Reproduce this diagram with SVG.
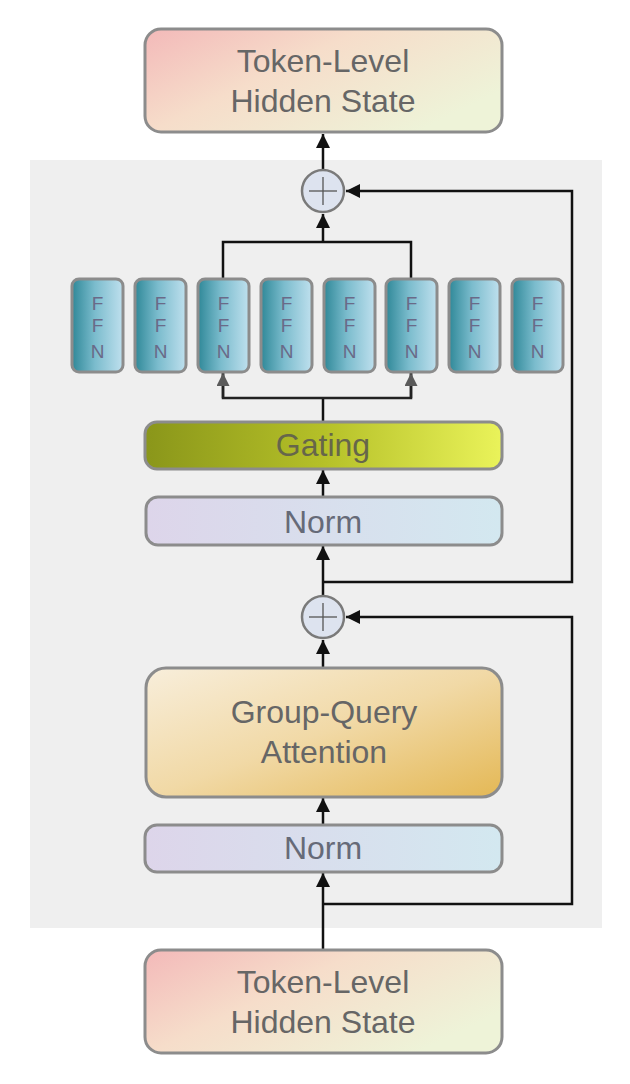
<svg xmlns="http://www.w3.org/2000/svg" width="630" height="1084" viewBox="0 0 630 1084">
<defs>
<linearGradient id="gTok" x1="0" y1="0" x2="1" y2="0.6">
<stop offset="0" stop-color="#f3b9b9"/>
<stop offset="0.45" stop-color="#f6ddca"/>
<stop offset="1" stop-color="#eef3d8"/>
</linearGradient>
<linearGradient id="gNorm" x1="0" y1="0" x2="1" y2="0">
<stop offset="0" stop-color="#ddd5ea"/>
<stop offset="1" stop-color="#d3e8f0"/>
</linearGradient>
<linearGradient id="gGate" x1="0" y1="0" x2="1" y2="0">
<stop offset="0" stop-color="#8a961a"/>
<stop offset="0.5" stop-color="#b5c028"/>
<stop offset="1" stop-color="#eaf35a"/>
</linearGradient>
<linearGradient id="gGqa" x1="0" y1="0" x2="1" y2="1">
<stop offset="0" stop-color="#f8eedb"/>
<stop offset="0.5" stop-color="#f1d9a6"/>
<stop offset="1" stop-color="#e4b855"/>
</linearGradient>
<linearGradient id="gFfn" x1="0" y1="0" x2="1" y2="0">
<stop offset="0" stop-color="#2f8898"/>
<stop offset="0.45" stop-color="#7bbccd"/>
<stop offset="1" stop-color="#bfe0ee"/>
</linearGradient>
<marker id="arr" viewBox="0 0 10 10" refX="10" refY="5" markerWidth="14" markerHeight="14" markerUnits="userSpaceOnUse" orient="auto">
<path d="M0,0 L10,5 L0,10 z" fill="#111"/>
</marker>
<marker id="arrG" viewBox="0 0 10 10" refX="10" refY="5" markerWidth="13" markerHeight="13" markerUnits="userSpaceOnUse" orient="auto">
<path d="M0,0 L10,5 L0,10 z" fill="#5a5a5a"/>
</marker>
</defs>
<style>
.box{stroke:#8c8c8c;stroke-width:3}
.lbl{font-family:"Liberation Sans",Arial,sans-serif;font-size:32px;fill:#666;text-anchor:middle}
.ffn{fill:url(#gFfn);stroke:#8c8c8c;stroke-width:3}
.ft{font-family:"Liberation Sans",Arial,sans-serif;font-size:19px;fill:#6a6a88;text-anchor:middle}
.ln{fill:none;stroke:#111;stroke-width:2.5}
.lnG{fill:none;stroke:#222;stroke-width:2.5}
.circ{fill:#dde3ef;stroke:#7a7a7a;stroke-width:2.5}
.plus{stroke:#555;stroke-width:1.3}
</style>
<rect x="30" y="160" width="572" height="768" fill="#efefef"/>

<g id="connectors">
<line class="ln" x1="323" y1="169" x2="323" y2="134" marker-end="url(#arr)"/>
<path class="ln" d="M323,582 H572 V191 H346" marker-end="url(#arr)"/>
<line class="ln" x1="323" y1="595" x2="323" y2="546" marker-end="url(#arr)"/>
<line class="ln" x1="323" y1="497" x2="323" y2="470" marker-end="url(#arr)"/>
<path class="ln" d="M323,422 V398"/>
<path class="lnG" d="M223,372 V398 H411 V372"/>
<line class="lnG" x1="223" y1="398" x2="223" y2="373" marker-end="url(#arrG)"/>
<line class="lnG" x1="411" y1="398" x2="411" y2="373" marker-end="url(#arrG)"/>
<path class="ln" d="M223,279 V242 H411 V279"/>
<line class="ln" x1="323" y1="242" x2="323" y2="214" marker-end="url(#arr)"/>
<path class="ln" d="M323,904 H572 V617 H346" marker-end="url(#arr)"/>
<line class="ln" x1="323" y1="668" x2="323" y2="640" marker-end="url(#arr)"/>
<line class="ln" x1="323" y1="825" x2="323" y2="798" marker-end="url(#arr)"/>
<line class="ln" x1="323" y1="950" x2="323" y2="873" marker-end="url(#arr)"/>
</g>

<g id="top-hidden">
<rect class="box" x="145" y="29" width="357" height="103" rx="16" fill="url(#gTok)"/>
<text class="lbl" x="323" y="72">Token-Level</text>
<text class="lbl" x="323" y="112">Hidden State</text>
</g>

<g id="add-top">
<circle class="circ" cx="323" cy="191" r="21"/>
<line class="plus" x1="309" y1="191" x2="337" y2="191"/>
<line class="plus" x1="323" y1="177" x2="323" y2="205"/>
</g>

<g id="ffn1"><rect class="ffn" x="72" y="279" width="51" height="93" rx="7"/><text class="ft" x="97.5" y="310">F</text><text class="ft" x="97.5" y="332">F</text><text class="ft" x="97.5" y="358">N</text></g>
<g id="ffn2"><rect class="ffn" x="135" y="279" width="51" height="93" rx="7"/><text class="ft" x="160.5" y="310">F</text><text class="ft" x="160.5" y="332">F</text><text class="ft" x="160.5" y="358">N</text></g>
<g id="ffn3"><rect class="ffn" x="198" y="279" width="51" height="93" rx="7"/><text class="ft" x="223.5" y="310">F</text><text class="ft" x="223.5" y="332">F</text><text class="ft" x="223.5" y="358">N</text></g>
<g id="ffn4"><rect class="ffn" x="261" y="279" width="51" height="93" rx="7"/><text class="ft" x="286.5" y="310">F</text><text class="ft" x="286.5" y="332">F</text><text class="ft" x="286.5" y="358">N</text></g>
<g id="ffn5"><rect class="ffn" x="324" y="279" width="51" height="93" rx="7"/><text class="ft" x="349.5" y="310">F</text><text class="ft" x="349.5" y="332">F</text><text class="ft" x="349.5" y="358">N</text></g>
<g id="ffn6"><rect class="ffn" x="386" y="279" width="51" height="93" rx="7"/><text class="ft" x="411.5" y="310">F</text><text class="ft" x="411.5" y="332">F</text><text class="ft" x="411.5" y="358">N</text></g>
<g id="ffn7"><rect class="ffn" x="449" y="279" width="51" height="93" rx="7"/><text class="ft" x="474.5" y="310">F</text><text class="ft" x="474.5" y="332">F</text><text class="ft" x="474.5" y="358">N</text></g>
<g id="ffn8"><rect class="ffn" x="512" y="279" width="51" height="93" rx="7"/><text class="ft" x="537.5" y="310">F</text><text class="ft" x="537.5" y="332">F</text><text class="ft" x="537.5" y="358">N</text></g>

<g id="gating">
<rect class="box" x="145" y="422" width="357" height="47" rx="12" fill="url(#gGate)"/>
<text class="lbl" x="323" y="456" style="fill:#66664a">Gating</text>
</g>

<g id="norm-upper">
<rect class="box" x="146" y="497" width="356" height="48" rx="12" fill="url(#gNorm)"/>
<text class="lbl" x="323" y="533" style="fill:#666a78">Norm</text>
</g>

<g id="add-bottom">
<circle class="circ" cx="323" cy="617" r="21"/>
<line class="plus" x1="309" y1="617" x2="337" y2="617"/>
<line class="plus" x1="323" y1="603" x2="323" y2="631"/>
</g>

<g id="gqa">
<rect class="box" x="146" y="668" width="356" height="129" rx="20" fill="url(#gGqa)"/>
<text class="lbl" x="324" y="723">Group-Query</text>
<text class="lbl" x="324" y="763">Attention</text>
</g>

<g id="norm-lower">
<rect class="box" x="145" y="825" width="357" height="47" rx="12" fill="url(#gNorm)"/>
<text class="lbl" x="323" y="859" style="fill:#666a78">Norm</text>
</g>

<g id="bottom-hidden">
<rect class="box" x="145" y="950" width="357" height="103" rx="16" fill="url(#gTok)"/>
<text class="lbl" x="323" y="993">Token-Level</text>
<text class="lbl" x="323" y="1033">Hidden State</text>
</g>
</svg>
